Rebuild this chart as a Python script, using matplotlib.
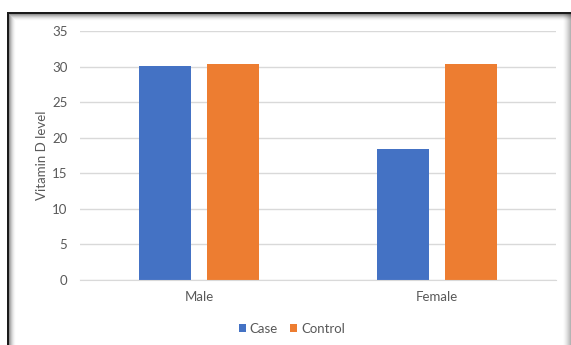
import matplotlib.pyplot as plt
import matplotlib.patches as mpatches
import numpy as np

plt.rcParams["font.family"] = ["Lato", "DejaVu Sans"]

groups = ["Male", "Female"]
case = [30.1, 18.4]
control = [30.4, 30.3]

blue = "#4472C4"
orange = "#ED7D31"
grey = "#595959"

fig = plt.figure(figsize=(5.71, 3.45), dpi=100)
W, H = 571, 345

# dark frame with a soft inner shadow
for i in range(8):
    a = 0.55 * (1 - i / 8) ** 2
    fig.add_artist(mpatches.Rectangle(((8 + i) / W, 0), 1 / W, (H - 14 - i) / H,
                                      transform=fig.transFigure, color="black", alpha=a, lw=0))
    fig.add_artist(mpatches.Rectangle(((8 + i) / W, (H - 14 - i) / H), (W - 8 - i) / W, 1 / H,
                                      transform=fig.transFigure, color="black", alpha=a, lw=0))
for i in range(9):
    a = 0.35 * (i / 9) ** 1.5
    fig.add_artist(mpatches.Rectangle(((562 + i) / W, 0), 1 / W, (H - 14) / H,
                                      transform=fig.transFigure, color="black", alpha=a, lw=0))
fig.add_artist(mpatches.Rectangle((7 / W, 0), 1.6 / W, (H - 12) / H,
                                  transform=fig.transFigure, color="#1a1a1a", lw=0))
fig.add_artist(mpatches.Rectangle((7 / W, (H - 14) / H), (W - 7) / W, 2 / H,
                                  transform=fig.transFigure, color="#1a1a1a", lw=0))

ax = fig.add_axes([80 / W, 65 / H, 476 / W, 249 / H])
x = np.arange(len(groups))
w = 0.222
ax.bar(x - 0.143, case, w, color=blue, label="Case", zorder=3)
ax.bar(x + 0.143, control, w, color=orange, label="Control", zorder=3)

ax.set_xlim(-0.5, 1.5)
ax.set_ylim(0, 35)
ax.set_yticks(range(0, 36, 5))
ax.set_xticks(x)
ax.set_xticklabels(groups)
ax.grid(axis="y", color="#D9D9D9", lw=1, zorder=0)
for s in ax.spines.values():
    s.set_visible(False)
ax.spines["bottom"].set_visible(True)
ax.spines["bottom"].set_color("#D9D9D9")
ax.spines["bottom"].set_zorder(4)
ax.tick_params(length=0, labelsize=9.5, colors=grey, pad=9)
ax.tick_params(axis="x", pad=8)
ax.set_ylabel("Vitamin D level", fontsize=9.5, color=grey, labelpad=3)

ax.legend(loc="center", bbox_to_anchor=(0.445, -0.195), ncol=2, frameon=False,
          fontsize=9.5, labelcolor=grey, handlelength=0.55, handleheight=0.55,
          handletextpad=0.3, columnspacing=0.9)

fig.savefig("out.png", dpi=100)
